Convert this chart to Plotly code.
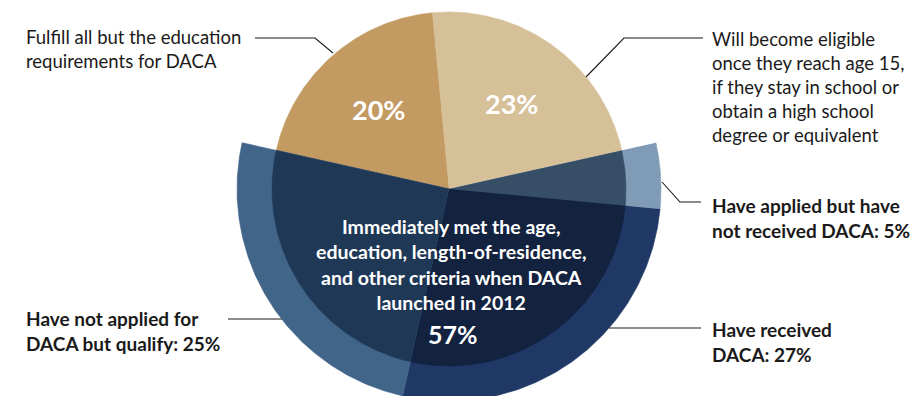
import numpy as np
import plotly.graph_objects as go

# Upper half of the pie: groups not yet eligible when DACA launched
top_shares = [20, 23]
top_pct_labels = ["20%", "23%"]
top_labels = [
    "Fulfill all but the education<br>requirements for DACA",
    "Will become eligible<br>once they reach age 15,<br>if they stay in school or<br>"
    "obtain a high school<br>degree or equivalent",
]

# Lower half: immediately eligible, split by application status
met_share = 57
met_pct_label = "57%"
met_label = ("Immediately met the age,<br>education, length-of-residence,<br>"
             "and other criteria when DACA<br>launched in 2012")
sub_shares = [5, 27, 25]
sub_labels = [
    "Have applied but have<br>not received DACA: 5%",
    "Have received<br>DACA: 27%",
    "Have not applied for<br>DACA but qualify: 25%",
]

# Colours
top_colors = ["#c29a62", "#d5c098"]
ring_colors = ["#7f9bb5", "#1f3866", "#416589"]
core_colors = ["#374e67", "#13223f", "#1f3856"]
TEXT = "#1a1a1a"
FONT = "Lato"

# Geometry (axis units are pixels of the 916x396 canvas)
W, H = 916, 396
CX, CY = 449, 189
R_IN, R_OUT = 177, 212
DEG_PER_PCT = 3.6


def wedge(a_start, a_end, r0, r1, n=160):
    """Polygon outline of an annular sector between two angles (degrees, math convention)."""
    t = np.radians(np.linspace(a_start, a_end, n))
    xs = np.concatenate([CX + r1 * np.cos(t), CX + r0 * np.cos(t[::-1])])
    ys = np.concatenate([CY - r1 * np.sin(t), CY - r0 * np.sin(t[::-1])])
    return xs, ys


def add_wedge(fig, a0, a1, r0, r1, color):
    xs, ys = wedge(a0, a1, r0, r1)
    fig.add_trace(go.Scatter(
        x=xs, y=ys, mode="lines", fill="toself", fillcolor=color,
        line=dict(color=color, width=0.6), hoverinfo="skip", showlegend=False,
    ))


fig = go.Figure()

# The upper slices are centred on 12 o'clock; walk clockwise from their left edge
start = 90 + sum(top_shares) * DEG_PER_PCT / 2

a = start
top_mid = []
for share, color in zip(top_shares, top_colors):
    a_end = a - share * DEG_PER_PCT
    add_wedge(fig, a, a_end, 0, R_IN, color)
    top_mid.append((a + a_end) / 2)
    a = a_end

# Lower block: outer ring pieces, then the darker core on top
for share, ring, core in zip(sub_shares, ring_colors, core_colors):
    a_end = a - share * DEG_PER_PCT
    add_wedge(fig, a, a_end, 0, R_OUT, ring)
    add_wedge(fig, a, a_end, 0, R_IN, core)
    a = a_end

# Leader lines from the labels to the slices
leaders = [
    [(255, 38), (315, 38), (333, 53)],
    [(703, 38), (624, 38), (586, 77)],
    [(662, 182), (680, 202), (701, 202)],
    [(609, 328), (701, 328)],
    [(228, 319), (282, 319)],
]
for pts in leaders:
    fig.add_trace(go.Scatter(
        x=[p[0] for p in pts], y=[p[1] for p in pts], mode="lines",
        line=dict(color=TEXT, width=1.1), hoverinfo="skip", showlegend=False,
    ))

annotations = []


def label(text, x, y, size, bold=False, color=TEXT, anchor="left", align="left"):
    annotations.append(dict(
        text=f"<b>{text}</b>" if bold else text, x=x, y=y, xref="x", yref="y",
        xanchor=anchor, yanchor="middle", align=align, showarrow=False,
        font=dict(family=FONT, size=size, color=color),
    ))


label(top_labels[0], 24, 49, 18.5)
label(top_labels[1], 710, 87, 18.5)
label(sub_labels[0], 710, 218, 19, bold=True)
label(sub_labels[1], 710, 342, 19, bold=True)
label(sub_labels[2], 24, 331, 19, bold=True)

# Percentages inside the upper slices
r_lab = 0.6 * R_IN
for mid, txt in zip(top_mid, top_pct_labels):
    label(txt, CX + r_lab * np.cos(np.radians(mid)), CY - r_lab * np.sin(np.radians(mid)),
          27, bold=True, color="white", anchor="center", align="center")

label(met_label, 451, 264, 19.5, bold=True, color="white", anchor="center", align="center")
label(met_pct_label, 453, 334, 25, bold=True, color="white", anchor="center", align="center")

fig.update_layout(
    width=W, height=H,
    margin=dict(l=0, r=0, t=0, b=0),
    paper_bgcolor="white", plot_bgcolor="white",
    xaxis=dict(range=[0, W], visible=False, fixedrange=True),
    yaxis=dict(range=[H, 0], visible=False, fixedrange=True),
    annotations=annotations,
    showlegend=False,
)

fig.write_html("out.html")
